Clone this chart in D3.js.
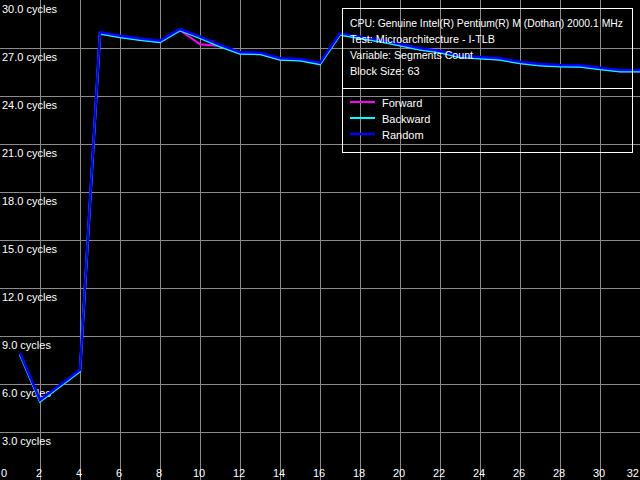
<!DOCTYPE html>
<html>
<head>
<meta charset="utf-8">
<script src="https://cdn.jsdelivr.net/npm/d3@7"></script>
<style>
html,body{margin:0;padding:0;background:#000;}
svg{display:block;}
text{font-family:"Liberation Sans",Arial,sans-serif;font-size:11px;fill:#fff;}
</style>
</head>
<body>
<script>
const segments = [1,2,3,4,5,6,7,8,9,10,11,12,13,14,15,16,17,18,19,20,21,22,23,24,25,26,27,28,29,30,31,32];
const randomVals = [7.94,5.0,5.94,6.88,27.98,27.77,27.6,27.46,28.19,27.71,27.19,26.73,26.71,26.36,26.31,26.08,27.92,27.71,27.5,27.25,26.98,26.81,26.52,26.44,26.36,26.14,26.0,25.94,25.92,25.77,25.63,25.63];
const backwardVals = [7.86,4.92,5.86,6.8,27.9,27.69,27.52,27.38,28.12,27.63,27.11,26.65,26.63,26.28,26.23,26.0,27.84,27.63,27.42,27.17,26.9,26.73,26.44,26.36,26.28,26.06,25.92,25.86,25.84,25.69,25.55,25.55];
const forwardVals = [7.86,4.92,5.86,6.8,27.9,27.69,27.52,27.38,28.12,27.23,27.12,26.65,26.63,26.28,26.23,26.0,27.84,27.63,27.42,27.17,26.9,26.73,26.44,26.36,26.28,26.06,25.92,25.86,25.84,25.69,25.55,25.55];
const xTicks = [0,2,4,6,8,10,12,14,16,18,20,22,24,26,28,30,32];
const yTicks = [3,6,9,12,15,18,21,24,27,30];
const infoLines = ["CPU: Genuine Intel(R) Pentium(R) M (Dothan) 2000.1 MHz","Test: Microarchitecture - I-TLB","Variable: Segments Count","Block Size: 63"];
const seriesNames = ["Forward","Backward","Random"];
const seriesColors = ["#ff00ff","#00ffff","#0000ff"];

const W = 640, H = 480;
const svg = d3.select("body").append("svg").attr("width", W).attr("height", H);
svg.append("rect").attr("width", W).attr("height", H).attr("fill", "#000");

const x = d3.scaleLinear().domain([0, 32]).range([0, W]);
const y = d3.scaleLinear().domain([0, 30]).range([H, 0]);

const grid = svg.append("g").attr("stroke", "#8c8c8c").attr("stroke-width", 1);
xTicks.filter(t => t > 0 && t < 32).forEach(t => {
  grid.append("line").attr("x1", Math.round(x(t)) + 0.5).attr("x2", Math.round(x(t)) + 0.5)
    .attr("y1", 0).attr("y2", H);
});
yTicks.filter(t => t < 30).forEach(t => {
  grid.append("line").attr("y1", Math.round(y(t)) + 0.5).attr("y2", Math.round(y(t)) + 0.5)
    .attr("x1", 0).attr("x2", W);
});

// y labels
svg.append("g").selectAll("text").data(yTicks).join("text")
  .attr("x", 2).attr("y", d => y(d) + 13)
  .text(d => d.toFixed(1) + " cycles");

// x labels
svg.append("g").selectAll("text").data(xTicks).join("text")
  .attr("x", d => d === 0 ? 1 : d === 32 ? 639 : x(d) - 1)
  .attr("y", 477)
  .attr("text-anchor", d => d === 0 ? "start" : d === 32 ? "end" : "middle")
  .text(d => d);

const line = d3.line().x(d => x(d[0])).y(d => y(d[1]));
const allSeries = [forwardVals, backwardVals, randomVals];
const widths = [2, 2.5, 2.5];
allSeries.forEach((vals, i) => {
  svg.append("path").datum(segments.map((s, j) => [s, vals[j]]))
    .attr("d", line).attr("fill", "none")
    .attr("stroke", seriesColors[i]).attr("stroke-width", widths[i])
    .attr("stroke-linejoin", "miter");
});

// legend box
const lg = svg.append("g");
lg.append("rect").attr("x", 342.5).attr("y", 8.5).attr("width", 290).attr("height", 144)
  .attr("fill", "none").attr("stroke", "#fff").attr("stroke-width", 1);
lg.append("line").attr("x1", 342.5).attr("x2", 632.5).attr("y1", 88.5).attr("y2", 88.5)
  .attr("stroke", "#fff").attr("stroke-width", 1);
const infoWidths = [273, 145, 123, null];
lg.selectAll("text.info").data(infoLines).join("text").attr("class", "info")
  .attr("x", 350).attr("y", (d, i) => 27 + i * 16)
  .each(function(d, i) {
    if (infoWidths[i]) d3.select(this).attr("textLength", infoWidths[i]).attr("lengthAdjust", "spacingAndGlyphs");
  })
  .text(d => d);
seriesNames.forEach((n, i) => {
  const yy = 102 + i * 16;
  lg.append("line").attr("x1", 350).attr("x2", 375).attr("y1", yy).attr("y2", yy)
    .attr("stroke", seriesColors[i]).attr("stroke-width", i === 2 ? 2.5 : 2);
  lg.append("text").attr("x", 382).attr("y", yy + 5).text(n);
});
</script>
</body>
</html>
